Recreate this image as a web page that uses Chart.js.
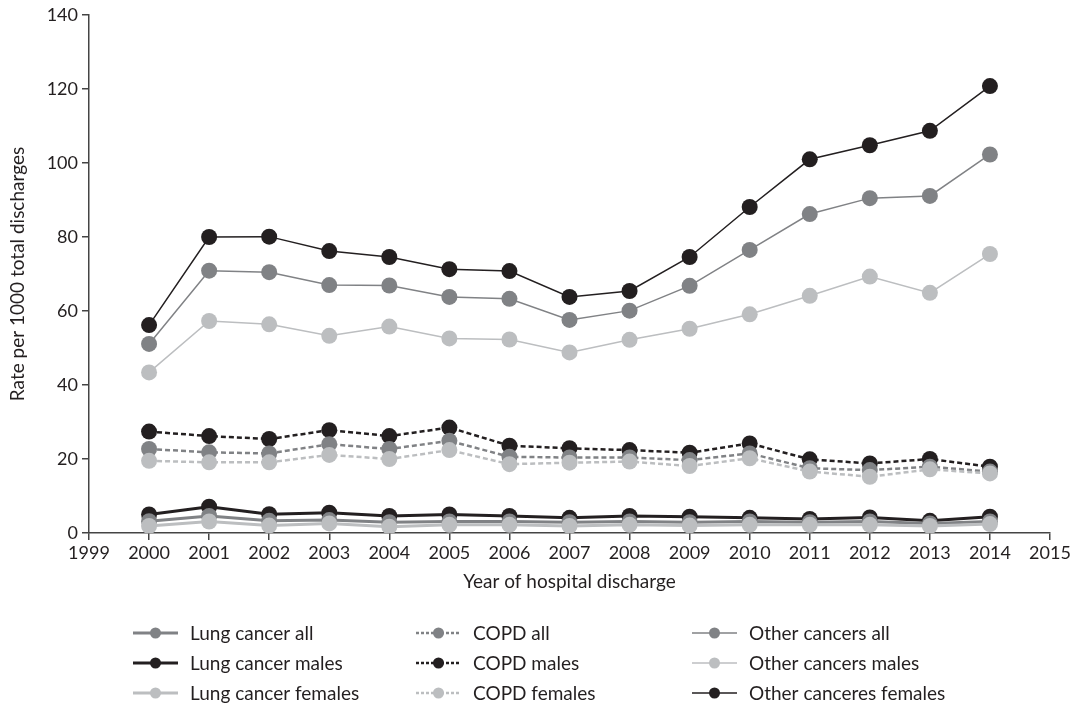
<!DOCTYPE html>
<html><head><meta charset="utf-8">
<script src="https://cdn.jsdelivr.net/npm/chart.js@4/dist/chart.umd.min.js"></script>
<style>html,body{margin:0;padding:0;background:#fff}</style>
</head><body>
<canvas id="c" width="1074" height="708"></canvas>
<script>
const years = [2000,2001,2002,2003,2004,2005,2006,2007,2008,2009,2010,2011,2012,2013,2014];
const xTickValues = [1999,2000,2001,2002,2003,2004,2005,2006,2007,2008,2009,2010,2011,2012,2013,2014,2015];
const yTickValues = [0,20,40,60,80,100,120,140];

const lungAll      = [3.2,4.6,3.3,3.5,2.9,3.1,3.1,2.9,3.1,2.9,3.1,2.9,3.1,2.6,3.1];
const lungMales    = [5.0,7.1,5.1,5.5,4.6,5.0,4.6,4.1,4.6,4.4,4.1,3.8,4.2,3.3,4.4];
const lungFemales  = [1.9,3.1,2.0,2.6,1.7,2.2,2.2,1.9,2.2,2.0,2.2,2.2,2.2,1.9,2.4];
const copdAll      = [22.7,21.8,21.5,24.0,22.7,24.9,20.6,20.4,20.4,19.7,21.5,17.5,17.0,17.9,16.6];
const copdMales    = [27.4,26.2,25.4,27.8,26.2,28.5,23.6,22.9,22.4,21.7,24.2,19.9,18.8,20.0,17.9];
const copdFemales  = [19.5,19.1,19.1,21.1,20.0,22.4,18.6,19.0,19.3,18.1,20.2,16.6,15.2,17.2,16.1];
const otherAll     = [51.1,70.9,70.5,67.0,66.9,63.8,63.3,57.6,60.1,66.8,76.5,86.2,90.5,91.1,102.3];
const otherMales   = [43.4,57.3,56.4,53.3,55.8,52.6,52.3,48.8,52.2,55.2,59.1,64.1,69.3,64.9,75.4];
const otherFemales = [56.2,80.0,80.1,76.2,74.6,71.3,70.8,63.8,65.4,74.6,88.1,101.0,104.8,108.7,120.8];

const seriesNames = ['Lung cancer all','Lung cancer males','Lung cancer females',
                     'COPD all','COPD males','COPD females',
                     'Other cancers all','Other cancers males','Other canceres females'];

const BLACK='#231f20', GREY='#808285', LIGHT='#bcbec0';
const FONT="'Lato', 'Open Sans', sans-serif";

function pts(vals){ return years.map((y,i)=>({x:y,y:vals[i]})); }
function ds(label, vals, color, width, dash, order){
  return {label, data:pts(vals), borderColor:color, backgroundColor:color,
    pointBackgroundColor:color, pointBorderColor:color, pointBorderWidth:0,
    pointRadius:8, pointHoverRadius:8, borderWidth:width, borderDash:dash,
    tension:0, fill:false, order};
}
const datasets = [
  ds(seriesNames[0], lungAll, GREY, 3, [], 4),
  ds(seriesNames[1], lungMales, BLACK, 3, [], 5),
  ds(seriesNames[2], lungFemales, LIGHT, 3, [], 3),
  ds(seriesNames[3], copdAll, GREY, 2.5, [5,3], 1),
  ds(seriesNames[4], copdMales, BLACK, 2.5, [5,3], 2),
  ds(seriesNames[5], copdFemales, LIGHT, 2.5, [5,3], 0),
  ds(seriesNames[6], otherAll, GREY, 1.5, [], 7),
  ds(seriesNames[7], otherMales, LIGHT, 1.5, [], 8),
  ds(seriesNames[8], otherFemales, BLACK, 1.5, [], 6),
];

const legendPlugin = {
  id:'gridLegend',
  afterDraw(chart){
    const ctx = chart.ctx;
    const colX = [133, 416, 692];
    const rowY = [633, 663, 693];
    ctx.save();
    ctx.font = '19px ' + FONT;
    ctx.textBaseline = 'middle';
    ctx.fillStyle = BLACK;
    chart.data.datasets.forEach((d,i)=>{
      const c = Math.floor(i/3), r = i%3;
      const x0 = colX[c], y = rowY[r];
      ctx.strokeStyle = d.borderColor;
      ctx.lineWidth = d.borderWidth;
      ctx.setLineDash(d.borderDash.length ? [3,2] : []);
      ctx.beginPath(); ctx.moveTo(x0,y); ctx.lineTo(x0+45,y); ctx.stroke();
      ctx.setLineDash([]);
      ctx.fillStyle = d.borderColor;
      ctx.beginPath(); ctx.arc(x0+22.5,y,5.5,0,Math.PI*2); ctx.fill();
      ctx.fillStyle = BLACK;
      ctx.fillText(d.label, x0+57, y+1);
    });
    ctx.restore();
  }
};

new Chart(document.getElementById('c'), {
  type:'line',
  data:{datasets},
  plugins:[legendPlugin],
  options:{
    responsive:false, animation:false, devicePixelRatio:1,
    layout:{padding:{left:0, right:24, top:15, bottom:115}},
    plugins:{legend:{display:false}, tooltip:{enabled:false}},
    scales:{
      x:{type:'linear', min:1999, max:2015,
        afterBuildTicks(s){ s.ticks = xTickValues.map(v=>({value:v})); },
        afterFit(s){ s.height = 60; },
        border:{display:true, color:'#444', width:1.5},
        grid:{display:true, drawOnChartArea:false, drawTicks:true, tickLength:7, color:'#444', lineWidth:1.5},
        ticks:{color:BLACK, font:{family:FONT, size:18}, padding:2, maxRotation:0, autoSkip:false, callback:v=>String(v)},
        title:{display:true, text:'Year of hospital discharge', color:BLACK, font:{family:FONT, size:19}, padding:{top:0,bottom:0}}
      },
      y:{type:'linear', min:0, max:140,
        afterBuildTicks(s){ s.ticks = yTickValues.map(v=>({value:v})); },
        afterFit(s){ s.width = 89; },
        border:{display:true, color:'#444', width:1.5},
        grid:{display:true, drawOnChartArea:false, drawTicks:true, tickLength:7, color:'#444', lineWidth:1.5},
        ticks:{color:BLACK, font:{family:FONT, size:18}, padding:4, callback:v=>String(v)},
        title:{display:true, text:'Rate per 1000 total discharges', color:BLACK, font:{family:FONT, size:19}, padding:{top:6,bottom:0}}
      }
    }
  }
});
</script>
</body></html>
